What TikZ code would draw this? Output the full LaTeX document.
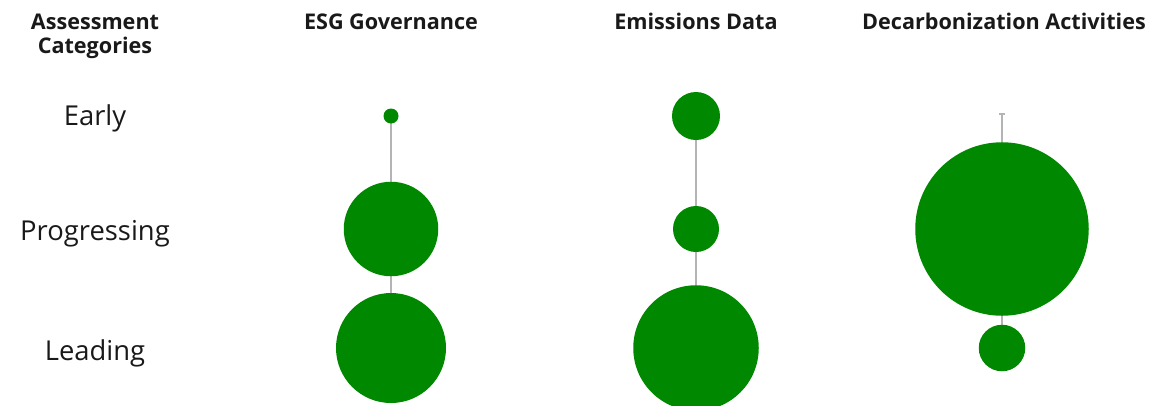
\documentclass[tikz,border=0pt]{standalone}
\usepackage{fontspec}
\setmainfont{Open Sans}
\usetikzlibrary{backgrounds}
\definecolor{bubblegreen}{RGB}{0,136,0}
\definecolor{stemgray}{RGB}{180,180,180}
\definecolor{inkcol}{RGB}{25,25,25}
\begin{document}
\begin{tikzpicture}[x=1bp,y=-1bp,
  bubble/.style={circle,fill=bubblegreen,inner sep=0pt,minimum size=#1},
  stemline/.style={draw=stemgray,line width=1.2bp},
  head/.style={font=\fontsize{21.6bp}{26bp}\selectfont\bfseries,text=inkcol,anchor=base,inner sep=0pt},
  rowlab/.style={font=\fontsize{27.4bp}{32bp}\selectfont,text=inkcol,anchor=base,inner sep=0pt}]
\useasboundingbox (0,0) rectangle (1175,405);
\clip (0,0) rectangle (1175,405);
% headers
\node[head] (h0a) at (95,29.3) {Assessment};
\node[head] (h0b) at (95,53.3) {Categories};
\node[head] (h1) at (391,29.3) {ESG Governance};
\node[head] (h2) at (696,29.3) {Emissions Data};
\node[head] (h3) at (1004,29.3) {Decarbonization Activities};
% row labels
\node[rowlab] (r1) at (95,125) {Early};
\node[rowlab] (r2) at (95,240) {Progressing};
\node[rowlab] (r3) at (95,360) {Leading};
% ESG Governance
\node[bubble=15bp] (g1) at (391,116) {};
\node[bubble=94.5bp] (g2) at (391,229) {};
\node[bubble=110bp] (g3) at (391,348) {};
% Emissions Data
\node[bubble=48bp] (e1) at (696,116) {};
\node[bubble=46bp] (e2) at (696,229) {};
\node[bubble=125.5bp] (e3) at (696,348) {};
% Decarbonization Activities
\coordinate (d1) at (1002,114);
\node[bubble=173.5bp] (d2) at (1002,229) {};
\node[bubble=46.5bp] (d3) at (1002,348) {};
\begin{scope}[on background layer]
\draw[stemline] (g1.center) -- (g2.center) -- (g3.center);
\draw[stemline] (e1.center) -- (e2.center) -- (e3.center);
\draw[stemline] (d1) -- (d2.center) -- (d3.center);
\draw[stemline] ([xshift=-3bp]d1) -- ([xshift=3bp]d1);
\end{scope}
\end{tikzpicture}
\end{document}
